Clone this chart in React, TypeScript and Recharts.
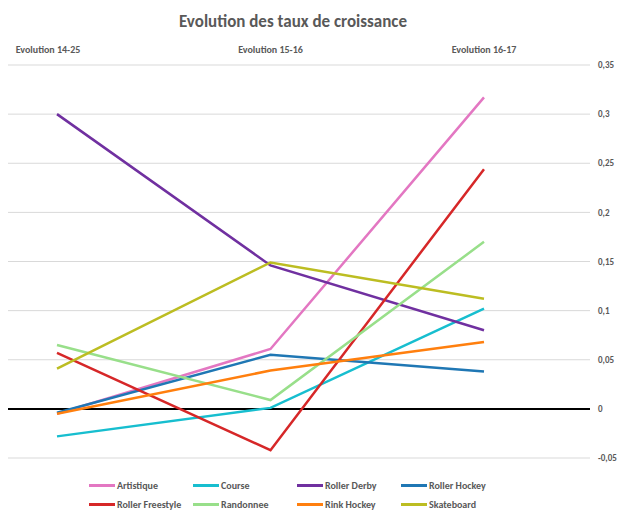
import { CartesianGrid, Line, LineChart, ReferenceLine, XAxis, YAxis } from 'recharts';

const periods = ['Evolution 14-25', 'Evolution 15-16', 'Evolution 16-17'];

const artistique = [-0.005, 0.061, 0.317];
const course = [-0.028, 0.001, 0.102];
const rollerDerby = [0.3, 0.146, 0.08];
const rollerHockey = [-0.004, 0.055, 0.038];
const rollerFreestyle = [0.057, -0.042, 0.244];
const randonnee = [0.065, 0.009, 0.17];
const rinkHockey = [-0.005, 0.039, 0.068];
const skateboard = [0.041, 0.149, 0.112];

const yTicks = [-0.05, 0, 0.05, 0.1, 0.15, 0.2, 0.25, 0.3, 0.35];

const series = [
  { key: 'artistique', name: 'Artistique', color: '#e377c2', values: artistique },
  { key: 'course', name: 'Course', color: '#17becf', values: course },
  { key: 'rollerDerby', name: 'Roller Derby', color: '#7030a0', values: rollerDerby },
  { key: 'rollerHockey', name: 'Roller Hockey', color: '#1f77b4', values: rollerHockey },
  { key: 'rollerFreestyle', name: 'Roller Freestyle', color: '#d62728', values: rollerFreestyle },
  { key: 'randonnee', name: 'Randonnee', color: '#98df8a', values: randonnee },
  { key: 'rinkHockey', name: 'Rink Hockey', color: '#ff7f0e', values: rinkHockey },
  { key: 'skateboard', name: 'Skateboard', color: '#bcbd22', values: skateboard },
];

const data = periods.map((period, i) => {
  const row: Record<string, string | number> = { period };
  series.forEach((s) => {
    row[s.key] = s.values[i];
  });
  return row;
});

const font = "Carlito, 'Liberation Sans Narrow', 'Liberation Sans', Arial, sans-serif";
const textColor = '#595959';

// first label sits a bit left of its point, like the original
function PeriodTick(props: any) {
  const { x, y, payload, index } = props;
  return (
    <text
      x={x + (index === 0 ? -9 : 0)}
      y={y - 4}
      textAnchor="middle"
      fill={textColor}
      fontSize={10}
      fontWeight="bold"
      fontFamily={font}
    >
      {payload.value}
    </text>
  );
}

export default function App() {
  return (
    <div style={{ position: 'relative', width: 618, height: 505, fontFamily: font }}>
      <div
        style={{
          position: 'absolute',
          top: 3,
          left: 0,
          width: 570,
          textAlign: 'center',
          fontSize: 17,
          fontWeight: 'bold',
          color: textColor,
        }}
      >
        Evolution des taux de croissance
      </div>
      <LineChart
        width={618}
        height={505}
        data={data}
        margin={{ top: 30, right: 0, bottom: 55, left: 0 }}
      >
        <CartesianGrid vertical={false} stroke="#d9d9d9" />
        <XAxis
          dataKey="period"
          orientation="top"
          height={27}
          axisLine={false}
          tickLine={false}
          padding={{ left: 49, right: 106 }}
          interval={0}
          tick={<PeriodTick />}
        />
        <YAxis
          orientation="right"
          width={36}
          domain={[-0.05, 0.35]}
          ticks={yTicks}
          axisLine={false}
          tickLine={false}
          interval={0}
          tickFormatter={(v: number) => String(Number(v.toFixed(2))).replace('.', ',')}
          tick={{ fill: textColor, fontSize: 9, fontWeight: 'bold', fontFamily: font }}
        />
        <ReferenceLine y={0} stroke="#000000" strokeWidth={2} />
        {series.map((s) => (
          <Line
            key={s.key}
            type="linear"
            dataKey={s.key}
            name={s.name}
            stroke={s.color}
            strokeWidth={2.5}
            dot={false}
            activeDot={false}
            isAnimationActive={false}
          />
        ))}
      </LineChart>
      <div
        style={{
          position: 'absolute',
          left: 81,
          top: 470,
          display: 'grid',
          gridTemplateColumns: 'repeat(4, 104px)',
          rowGap: 4,
        }}
      >
        {series.map((s) => (
          <div key={s.key} style={{ display: 'flex', alignItems: 'center', height: 15 }}>
            <span style={{ width: 26, height: 3, background: s.color, marginRight: 2 }} />
            <span style={{ fontSize: 10, fontWeight: 'bold', color: textColor, whiteSpace: 'nowrap' }}>
              {s.name}
            </span>
          </div>
        ))}
      </div>
    </div>
  );
}
